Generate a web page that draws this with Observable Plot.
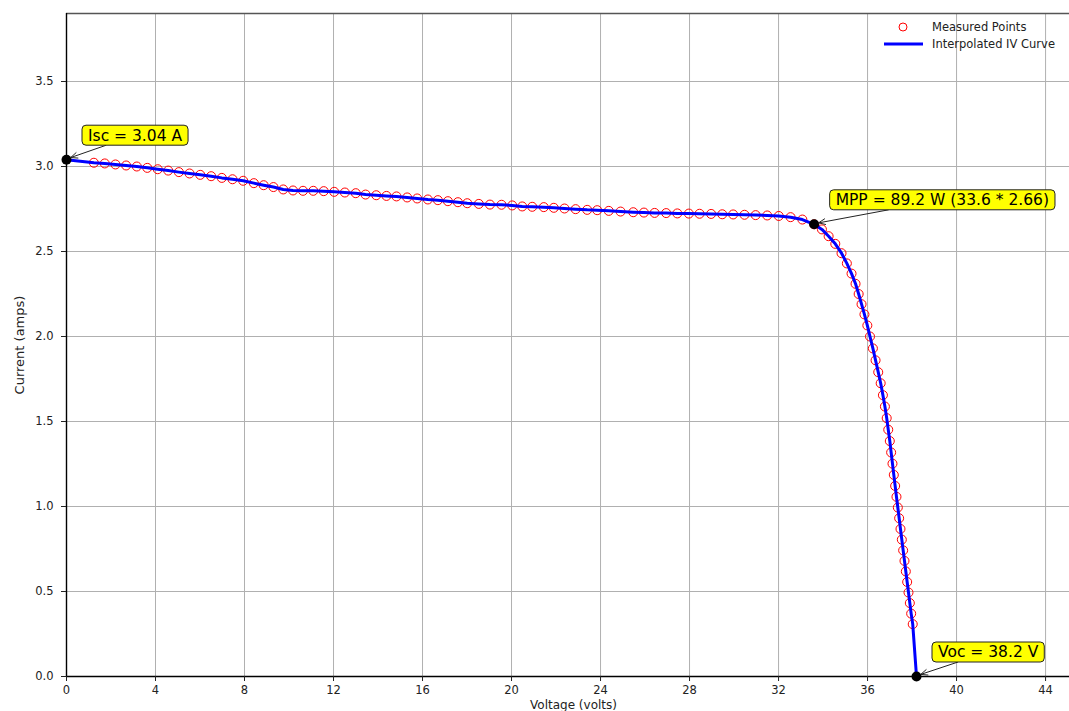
<!DOCTYPE html>
<html>
<head>
<meta charset="utf-8">
<script src="https://cdn.jsdelivr.net/npm/d3@7"></script>
<script src="https://cdn.jsdelivr.net/npm/@observablehq/plot@0.6"></script>
<style>
  html, body { margin: 0; padding: 0; overflow: hidden; background: white; }
  #wrap { position: relative; width: 1069px; height: 711px; overflow: hidden; }
  #wrap > svg { max-width: none !important; display: block; }
  .legend { position: absolute; font: 11.5px "DejaVu Sans", sans-serif; color: #222; white-space: nowrap; }
  .legend .row { position: absolute; left: 0; height: 16px; line-height: 16px; }
  .legend .sym { position: absolute; top: 0; width: 40px; height: 16px; }
  .legend .txt { position: absolute; left: 48px; top: 0; }
</style>
</head>
<body>
<div id="wrap"></div>
<script>
// Solar panel I-V sweep: measured samples (volts, amps)
const voltage = [
  1.23, 1.72, 2.20, 2.68, 3.16, 3.63, 4.10, 4.57, 5.05, 5.53, 6.01, 6.50, 6.98, 7.46, 7.94, 8.42, 8.86, 9.30, 9.74, 10.18, 10.63, 11.09, 11.56, 12.03, 12.51, 13.00,
  13.44, 13.92, 14.38, 14.83, 15.31, 15.76, 16.24, 16.69, 17.14, 17.59, 18.01, 18.53, 19.03, 19.55, 20.03, 20.48, 20.93, 21.45, 21.90, 22.38, 22.88, 23.40, 23.85, 24.37, 24.90, 25.47,
  25.95, 26.43, 26.95, 27.45, 27.97, 28.45, 28.97, 29.47, 29.96, 30.47, 30.97, 31.49, 32.01, 32.54, 33.07, 33.60,
  33.95, 34.25, 34.55, 34.83, 35.07, 35.28, 35.46, 35.60, 35.73, 35.86, 35.99, 36.11, 36.24, 36.36, 36.48, 36.59, 36.69, 36.78,
  36.86, 36.93, 37.00, 37.06, 37.12, 37.18, 37.24, 37.30, 37.36, 37.42, 37.48, 37.54, 37.60, 37.66, 37.72, 37.78, 37.84, 37.90, 37.96, 38.03
];
const current = [
  3.022, 3.018, 3.012, 3.006, 3.000, 2.992, 2.984, 2.976, 2.967, 2.959, 2.951, 2.943, 2.933, 2.925, 2.916, 2.902, 2.890, 2.879, 2.865, 2.859, 2.857, 2.857, 2.855, 2.851, 2.847, 2.843,
  2.835, 2.831, 2.827, 2.824, 2.818, 2.812, 2.806, 2.802, 2.796, 2.790, 2.784, 2.780, 2.776, 2.775, 2.771, 2.765, 2.763, 2.761, 2.757, 2.753, 2.749, 2.745, 2.743, 2.739, 2.735, 2.731,
  2.729, 2.727, 2.726, 2.724, 2.723, 2.722, 2.721, 2.719, 2.718, 2.716, 2.714, 2.712, 2.709, 2.702, 2.688, 2.660,
  2.630, 2.590, 2.545, 2.490, 2.430, 2.370, 2.310, 2.250, 2.190, 2.130, 2.065, 2.000, 1.930, 1.860, 1.790, 1.725, 1.655, 1.588,
  1.520, 1.452, 1.385, 1.318, 1.252, 1.186, 1.121, 1.057, 0.994, 0.931, 0.868, 0.805, 0.742, 0.680, 0.618, 0.556, 0.494, 0.432, 0.370, 0.308
];

// Key operating points
const isc = 3.04;   // short-circuit current (A)
const voc = 38.2;   // open-circuit voltage (V)
const vmp = 33.6;   // voltage at maximum power (V)
const imp = 2.66;   // current at maximum power (A)
const pmax = 89.2;  // maximum power (W)

// Axis ticks and labels
const xTicks = [0, 4, 8, 12, 16, 20, 24, 28, 32, 36, 40, 44];
const yTicks = [0, 0.5, 1.0, 1.5, 2.0, 2.5, 3.0, 3.5];
const xLabel = "Voltage (volts)";
const yLabel = "Current (amps)";
const legendLabels = ["Measured Points", "Interpolated IV Curve"];

const measured = voltage.map((v, k) => ({v, i: current[k]}));
const curve = [{v: 0, i: isc}, ...measured, {v: voc, i: 0}];
const annotations = [
  {label: `Isc = ${isc} A`, v: 0, i: isc},
  {label: `MPP = ${pmax} W (${vmp} * ${imp})`, v: vmp, i: imp},
  {label: `Voc = ${voc} V`, v: voc, i: 0}
];

const annoFont = "15.5px 'DejaVu Sans'";

// Yellow callout boxes with arrows pointing at the key points
function callouts(index, scales) {
  const g = d3.create("svg:g");
  const ctx = document.createElement("canvas").getContext("2d");
  ctx.font = annoFont;
  for (const a of annotations) {
    const px = scales.x(a.v), py = scales.y(a.i);
    const tx = px + 22, ty = py - 24;
    const w = ctx.measureText(a.label).width;
    const padX = 6, h = 20;
    const bx0 = tx - padX, bx1 = tx + w + padX;
    const cx = (bx0 + bx1) / 2, cy = ty;
    const dx = px - cx, dy = py - cy;
    const t = Math.min((bx1 - bx0) / 2 / Math.abs(dx || 1e-9), (h / 2) / Math.abs(dy || 1e-9));
    const sx = cx + dx * t, sy = cy + dy * t;
    const len = Math.hypot(dx, dy);
    const ux = dx / len, uy = dy / len;
    const ex = px - ux * 5, ey = py - uy * 5;
    const hl = 7, hw = 3;
    g.append("line")
      .attr("x1", sx).attr("y1", sy).attr("x2", ex).attr("y2", ey)
      .attr("stroke", "#222").attr("stroke-width", 1);
    g.append("path")
      .attr("d", `M${ex - ux * hl - uy * hw},${ey - uy * hl + ux * hw}L${ex},${ey}L${ex - ux * hl + uy * hw},${ey - uy * hl - ux * hw}`)
      .attr("fill", "none").attr("stroke", "#222").attr("stroke-width", 1);
    g.append("rect")
      .attr("x", bx0).attr("y", cy - h / 2).attr("width", bx1 - bx0).attr("height", h)
      .attr("rx", 4).attr("fill", "#ffff00").attr("stroke", "#222").attr("stroke-width", 1);
    g.append("text")
      .attr("x", tx).attr("y", ty).attr("dy", "0.35em")
      .attr("text-anchor", "start")
      .attr("font-family", "DejaVu Sans").attr("font-size", 15.5).attr("fill", "black")
      .text(a.label);
  }
  return g.node();
}

const chart = Plot.plot({
  width: 1080,
  height: 725,
  marginLeft: 66,
  marginRight: 0,
  marginTop: 13,
  marginBottom: 49,
  style: {fontFamily: "DejaVu Sans", fontSize: "11.5px", color: "#222", background: "white", maxWidth: "none"},
  x: {domain: [0, 45.57], label: null},
  y: {domain: [0, 3.9], label: null},
  marks: [
    Plot.gridX(xTicks, {stroke: "#b0b0b0", strokeOpacity: 1, strokeWidth: 1}),
    Plot.gridY(yTicks, {stroke: "#b0b0b0", strokeOpacity: 1, strokeWidth: 1}),
    Plot.ruleY([3.9], {stroke: "#555", strokeWidth: 1.4}),
    Plot.ruleX([0], {stroke: "black", strokeWidth: 1.4}),
    Plot.ruleY([0], {stroke: "black", strokeWidth: 1.4}),
    Plot.axisX({ticks: xTicks, tickSize: 5, tickPadding: 4, label: null}),
    Plot.axisY({ticks: yTicks, tickSize: 5, tickPadding: 8, tickFormat: ".1f", label: null}),
    Plot.dot(measured, {x: "v", y: "i", r: 4.5, stroke: "red", strokeWidth: 1, fill: "none"}),
    Plot.line(curve, {x: "v", y: "i", stroke: "blue", strokeWidth: 3}),
    Plot.dot(annotations, {x: "v", y: "i", r: 5, fill: "black"}),
    callouts,
    Plot.text([xLabel], {frameAnchor: "bottom", dy: 32, lineAnchor: "bottom", textAnchor: "middle", text: d => d, fontSize: 12}),
    Plot.text([yLabel], {frameAnchor: "left", dx: -47, rotate: -90, lineAnchor: "middle", textAnchor: "middle", text: d => d, fontSize: 13})
  ]
});

const wrap = document.getElementById("wrap");
wrap.appendChild(chart);

// Legend in the upper right corner of the plot area
const legend = document.createElement("div");
legend.className = "legend";
legend.style.left = "884px";
legend.style.top = "19px";
legend.innerHTML = `
  <div class="row" style="top:0">
    <svg class="sym" width="40" height="16"><circle cx="19" cy="8" r="4" fill="none" stroke="red" stroke-width="1"/></svg>
    <span class="txt">${legendLabels[0]}</span>
  </div>
  <div class="row" style="top:17px">
    <svg class="sym" width="40" height="16"><line x1="0" x2="39" y1="8" y2="8" stroke="blue" stroke-width="3"/></svg>
    <span class="txt">${legendLabels[1]}</span>
  </div>`;
wrap.appendChild(legend);
</script>
</body>
</html>
